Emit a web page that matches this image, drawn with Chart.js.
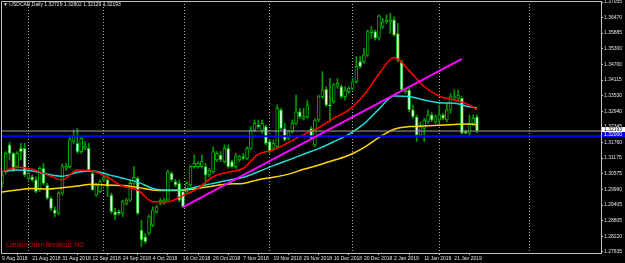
<!DOCTYPE html>
<html>
<head>
<meta charset="utf-8">
<script src="https://cdn.jsdelivr.net/npm/chart.js@4.4.1/dist/chart.umd.min.js"></script>
<style>
  html, body { margin: 0; padding: 0; background: #000; }
  #wrap { width: 625px; height: 263px; }
</style>
</head>
<body>
<div id="wrap"><canvas id="usdcad" width="625" height="263"></canvas></div>
<script>
const symbol = 'USDCAD';
const period = 'Daily';
const signalText = 'London Open Breakout: NO';

// time axis (bar index -> label)
const dateLabels = ['9 Aug 2018', '21 Aug 2018', '31 Aug 2018', '12 Sep 2018', '24 Sep 2018', '4 Oct 2018',
  '16 Oct 2018', '26 Oct 2018', '7 Nov 2018', '19 Nov 2018', '29 Nov 2018', '10 Dec 2018',
  '20 Dec 2018', '2 Jan 2019', '11 Jan 2019', '21 Jan 2019'];
const dateLabelBars = [0, 8, 16, 24, 32, 40, 48, 56, 64, 72, 80, 88, 96, 104, 112, 120];
const separatorBars = [17, 37, 60, 82, 104, 128];

// daily candles
const opens = [1.3022,1.3066,1.3167,1.3135,1.3085,1.3154,1.3154,1.3041,1.3047,1.3035,
  1.2997,1.3079,1.3016,1.2966,1.2922,1.2909,1.2985,1.3079,1.3085,1.3180,
  1.3173,1.3142,1.3154,1.3154,1.3060,1.2978,1.2991,1.3035,1.3035,1.2978,
  1.2915,1.2915,1.2909,1.2947,1.2959,1.3022,1.3041,1.2846,1.2821,1.2834,
  1.2865,1.2915,1.2947,1.2947,1.2959,1.3060,1.3029,1.3022,1.2991,1.2991,
  1.3016,1.3085,1.3085,1.3085,1.3085,1.3054,1.3066,1.3110,1.3129,1.3104,
  1.3154,1.3104,1.3085,1.3110,1.3123,1.3116,1.3154,1.3223,1.3242,1.3223,
  1.3236,1.3180,1.3154,1.3160,1.3299,1.3229,1.3192,1.3217,1.3248,1.3292,
  1.3267,1.3273,1.3229,1.3167,1.3261,1.3349,1.3376,1.3317,1.3330,1.3387,
  1.3387,1.3349,1.3368,1.3380,1.3405,1.3481,1.3481,1.3506,1.3590,1.3594,
  1.3569,1.3613,1.3631,1.3631,1.3638,1.3587,1.3481,1.3368,1.3374,1.3299,
  1.3273,1.3204,1.3229,1.3254,1.3280,1.3254,1.3261,1.3280,1.3261,1.3299,
  1.3343,1.3343,1.3343,1.3217,1.3211,1.3248,1.32729];
const highs = [1.3066,1.3142,1.3176,1.3138,1.3142,1.3173,1.3173,1.3066,1.3054,1.3047,
  1.3085,1.3098,1.3022,1.2972,1.2934,1.2991,1.3095,1.3098,1.3204,1.3223,
  1.3229,1.3198,1.3180,1.3173,1.3066,1.3022,1.3035,1.3054,1.3054,1.2985,
  1.2928,1.2922,1.2959,1.2966,1.3035,1.3085,1.3047,1.2884,1.2834,1.2903,
  1.2934,1.2940,1.2966,1.2966,1.3072,1.3066,1.3037,1.3035,1.2997,1.3029,
  1.3091,1.3129,1.3104,1.3129,1.3098,1.3079,1.3160,1.3142,1.3142,1.3167,
  1.3167,1.3110,1.3135,1.3129,1.3135,1.3160,1.3236,1.3261,1.3261,1.3261,
  1.3242,1.3186,1.3186,1.3317,1.3305,1.3248,1.3223,1.3261,1.3355,1.3305,
  1.3305,1.3336,1.3236,1.3267,1.3355,1.3443,1.3387,1.3418,1.3399,1.3418,
  1.3393,1.3387,1.3387,1.3418,1.3500,1.3500,1.3531,1.3600,1.3613,1.3600,
  1.3657,1.3644,1.3657,1.3663,1.3650,1.3625,1.3487,1.3380,1.3380,1.3317,
  1.3280,1.3254,1.3267,1.3299,1.3289,1.3280,1.3317,1.3286,1.3324,1.3361,
  1.3374,1.3374,1.3349,1.3223,1.3280,1.3280,1.32802];
const lows = [1.3010,1.3057,1.3110,1.3066,1.3079,1.3110,1.3047,1.3035,1.3029,1.2987,
  1.2991,1.3016,1.2962,1.2919,1.2897,1.2903,1.2978,1.3072,1.3079,1.3173,
  1.3135,1.3135,1.3148,1.3066,1.2995,1.2974,1.2987,1.3029,1.2972,1.2909,
  1.2884,1.2903,1.2897,1.2940,1.2953,1.3016,1.2903,1.2784,1.2796,1.2828,
  1.2859,1.2909,1.2940,1.2944,1.2953,1.3029,1.3010,1.2953,1.2932,1.2985,
  1.3010,1.3079,1.3079,1.3079,1.3022,1.3047,1.3060,1.3104,1.3104,1.3098,
  1.3079,1.3079,1.3079,1.3104,1.3110,1.3110,1.3148,1.3217,1.3229,1.3211,
  1.3167,1.3135,1.3148,1.3154,1.3223,1.3180,1.3186,1.3211,1.3242,1.3267,
  1.3261,1.3267,1.3186,1.3160,1.3254,1.3343,1.3311,1.3254,1.3324,1.3380,
  1.3343,1.3336,1.3361,1.3374,1.3399,1.3456,1.3474,1.3500,1.3569,1.3562,
  1.3562,1.3606,1.3625,1.3587,1.3577,1.3481,1.3368,1.3361,1.3292,1.3267,
  1.3180,1.3198,1.3180,1.3248,1.3254,1.3248,1.3248,1.3261,1.3254,1.3286,
  1.3336,1.3336,1.3208,1.3208,1.3204,1.3242,1.32129];
const closes = [1.3054,1.3135,1.3135,1.3072,1.3135,1.3142,1.3054,1.3060,1.3035,1.2991,
  1.3079,1.3022,1.2966,1.2928,1.2909,1.2985,1.3085,1.3087,1.3186,1.3201,
  1.3142,1.3192,1.3163,1.3072,1.2997,1.3016,1.3029,1.3045,1.3010,1.2915,
  1.2903,1.2909,1.2953,1.2959,1.3022,1.3045,1.2909,1.2809,1.2802,1.2897,
  1.2922,1.2934,1.2959,1.2959,1.3066,1.3035,1.3016,1.2959,1.2934,1.3022,
  1.3085,1.3098,1.3098,1.3104,1.3054,1.3072,1.3142,1.3135,1.3110,1.3154,
  1.3085,1.3085,1.3123,1.3123,1.3116,1.3154,1.3223,1.3248,1.3236,1.3248,
  1.3173,1.3142,1.3173,1.3305,1.3229,1.3186,1.3217,1.3248,1.3292,1.3273,
  1.3276,1.3317,1.3192,1.3261,1.3349,1.3374,1.3317,1.3314,1.3393,1.3399,
  1.3349,1.3374,1.3380,1.3405,1.3462,1.3462,1.3506,1.3594,1.3598,1.3569,
  1.3653,1.3631,1.3638,1.3638,1.3581,1.3487,1.3374,1.3374,1.3299,1.3273,
  1.3204,1.3236,1.3261,1.3280,1.3261,1.3273,1.3280,1.3267,1.3299,1.3349,
  1.3349,1.3355,1.3211,1.3211,1.3248,1.3267,1.32193];

// moving averages at these bars
const maBars = [0,4,8,12,16,20,24,28,32,36,40,44,48,52,56,60,64,68,72,76,80,84,88,92,96,100,104,108,112,116,120,124,126];
const maFast = [1.3066,1.3083,1.3075,1.3054,1.3035,1.3072,1.3069,1.3045,1.3012,1.2997,1.2953,1.2953,1.2976,1.3003,1.3047,1.3064,1.3079,
  1.3132,1.3148,1.3176,1.3206,1.3232,1.3268,1.3299,1.3355,1.3434,1.3496,1.3447,1.3387,1.3351,1.3336,1.3317,1.3299];
const maMid = [1.3067,1.3072,1.3069,1.3057,1.3049,1.3064,1.3069,1.3056,1.3041,1.3027,1.3003,1.2997,1.2998,1.3010,1.3022,1.3034,1.3045,
  1.3066,1.3089,1.3110,1.3132,1.3153,1.3179,1.3207,1.3246,1.3302,1.3351,1.3349,1.3336,1.3326,1.3324,1.3311,1.3307];
const maSlow = [1.2990,1.2997,1.3003,1.3001,1.3006,1.3012,1.3019,1.3016,1.3014,1.3007,1.2997,1.2995,1.2997,1.3003,1.3012,1.3020,1.3022,
  1.3036,1.3045,1.3057,1.3075,1.3091,1.3109,1.3128,1.3157,1.3195,1.3226,1.3236,1.3238,1.3241,1.3244,1.3246,1.3242];

// trend line and horizontal levels
const trendBars = [48, 122];
const trendValues = [1.2933, 1.3491];
const bidLevel = 1.32193;
const blueLevel = 1.32000;

const priceTicks = [1.37055, 1.36470, 1.35885, 1.35300, 1.34700, 1.34115, 1.33530, 1.32940, 1.32345,
  1.31760, 1.31175, 1.30575, 1.29990, 1.29405, 1.28805, 1.28220, 1.27635];

const xMin = -0.27, xMax = 158.9;
const yMin = 1.27597, yMax = 1.37093;

const FONT = 'Liberation Sans';
const WICK = '#009a00';
const EDGE = '#00b000';

const levelLine = (v) => [{ x: xMin, y: v }, { x: xMax, y: v }];
const maLine = (vals, color) => ({
  type: 'line',
  data: maBars.map((b, i) => ({ x: b, y: vals[i] })),
  borderColor: color,
  borderWidth: 1.5,
  pointRadius: 0,
  cubicInterpolationMode: 'monotone'
});

const overlay = {
  id: 'overlay',
  afterDraw(chart) {
    const { ctx, chartArea: a, scales: { y } } = chart;
    ctx.save();
    ctx.strokeStyle = '#c0c0c0';
    ctx.lineWidth = 1;
    ctx.beginPath();
    ctx.moveTo(a.left + 0.5, a.bottom);
    ctx.lineTo(a.left + 0.5, a.top + 0.5);
    ctx.lineTo(a.right, a.top + 0.5);
    ctx.stroke();

    // price tags on the axis
    ctx.font = '5px "' + FONT + '"';
    ctx.textBaseline = 'middle';
    const tag = (v, bg, fg) => {
      const py = y.getPixelForValue(v) - 1.5;
      ctx.fillStyle = bg;
      ctx.fillRect(a.right + 1, py - 2.5, 23, 5);
      ctx.fillStyle = fg;
      ctx.fillText(v.toFixed(5), a.right + 3, py);
    };
    tag(blueLevel, '#0000ff', '#ffffff');
    tag(bidLevel, '#ffffff', '#000000');

    const n = closes.length - 1;
    const header = '\u25BC ' + symbol + ',' + period + ' ' +
      [opens[n], highs[n], lows[n], closes[n]].map(v => v.toFixed(5)).join(' ');
    ctx.fillStyle = '#e0e0e0';
    ctx.fillText(header, 3, 5);

    ctx.font = '6.3px "' + FONT + '"';
    ctx.fillStyle = '#e00000';
    ctx.fillText(signalText, 6, 245);
    ctx.restore();
  }
};

new Chart(document.getElementById('usdcad'), {
  type: 'bar',
  data: {
    datasets: [
      { type: 'line', data: trendBars.map((b, i) => ({ x: b, y: trendValues[i] })), borderColor: '#ff00ff', borderWidth: 2, pointRadius: 0 },
      { type: 'line', data: levelLine(blueLevel), borderColor: '#0000ff', borderWidth: 2, pointRadius: 0 },
      { type: 'line', data: levelLine(bidLevel), borderColor: '#a0a0a0', borderWidth: 1, pointRadius: 0 },
      maLine(maFast, '#ff0000'),
      maLine(maMid, '#20d8d8'),
      maLine(maSlow, '#ffd700'),
      {
        data: opens.map((o, i) => ({ x: i, y: [o, closes[i]] })),
        grouped: false,
        barThickness: 3,
        minBarLength: 1,
        borderWidth: 1,
        borderSkipped: false,
        borderColor: EDGE,
        backgroundColor: (c) => closes[c.dataIndex] >= opens[c.dataIndex] ? '#000000' : '#f0fff0'
      },
      {
        data: lows.map((l, i) => ({ x: i, y: [l, highs[i]] })),
        grouped: false,
        barThickness: 1,
        backgroundColor: WICK
      }
    ]
  },
  options: {
    responsive: false,
    animation: false,
    devicePixelRatio: 1,
    layout: { padding: { left: 1, top: 1, right: 0, bottom: 0 } },
    plugins: { legend: { display: false }, tooltip: { enabled: false } },
    scales: {
      x: {
        type: 'linear', min: xMin, max: xMax, offset: false,
        afterBuildTicks: s => { s.ticks = dateLabelBars.map(v => ({ value: v })); },
        afterFit: s => { s.height = 10; s.paddingLeft = 0; s.paddingRight = 0; },
        ticks: {
          autoSkip: false, maxRotation: 0, align: 'start', padding: 1,
          color: '#e0e0e0', font: { family: FONT, size: 5 },
          callback: (v, i) => dateLabels[i]
        },
        grid: { display: true, drawOnChartArea: false, drawTicks: true, tickLength: 2, color: '#c0c0c0' },
        border: { display: true, color: '#c0c0c0' }
      },
      sep: {
        type: 'linear', axis: 'x', position: 'bottom', min: xMin, max: xMax, offset: false,
        afterBuildTicks: s => { s.ticks = separatorBars.map(v => ({ value: v })); },
        afterFit: s => { s.height = 0; s.paddingLeft = 0; s.paddingRight = 0; },
        ticks: { display: false },
        grid: { drawOnChartArea: true, drawTicks: false, color: '#b0b0b0', lineWidth: 1 },
        border: { display: false, dash: [1, 2] }
      },
      y: {
        type: 'linear', position: 'right', min: yMin, max: yMax,
        afterBuildTicks: s => { s.ticks = priceTicks.map(v => ({ value: v })); },
        afterFit: s => { s.width = 24; s.paddingTop = 0; s.paddingBottom = 0; },
        ticks: { padding: 1, color: '#e0e0e0', font: { family: FONT, size: 5 }, callback: v => v.toFixed(5) },
        grid: { drawOnChartArea: false, drawTicks: true, tickLength: 2, color: '#c0c0c0' },
        border: { display: true, color: '#c0c0c0' }
      }
    }
  },
  plugins: [overlay]
});
</script>
</body>
</html>
